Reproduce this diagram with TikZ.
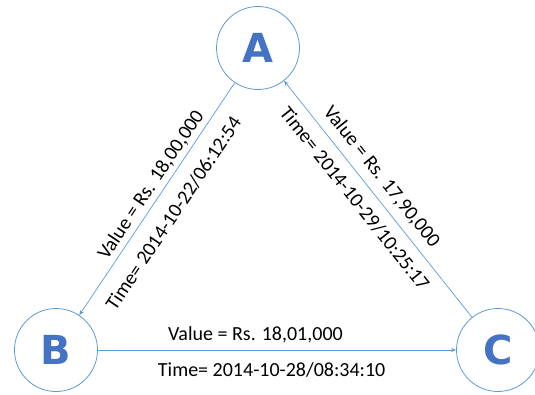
\documentclass[tikz,border=0pt]{standalone}
\usepackage{fontspec}
\setmainfont{Carlito}
\newfontfamily\lettfont{DejaVu Sans}
\usetikzlibrary{arrows.meta}
\definecolor{edgeblue}{HTML}{5B9BD5}
\definecolor{letterblue}{HTML}{4472C4}
\begin{document}
\begin{tikzpicture}[x=1pt, y=-1pt,
    party/.style={circle, draw=edgeblue, line width=0.8pt, minimum size=83pt, inner sep=0pt,
        font=\lettfont\bfseries\fontsize{40}{40}\selectfont, text=letterblue},
    link/.style={draw=edgeblue, line width=0.7pt, -{Stealth[length=5pt, width=4pt]}},
    info/.style={font=\fontsize{20}{22}\selectfont, inner sep=0pt}]
    \useasboundingbox (0,0) rectangle (535,395);

    % parties
    \node[party] (A) at (258,48) {A};
    \node[party] (B) at (56,350) {B};
    \node[party] (C) at (498,350) {C};

    % A to B
    \draw[link, {Stealth[length=5pt, width=4pt]}-] (B) -- (A)
        node[info, sloped, pos=0.53, above=4pt] {Value = Rs. 18,00,000}
        node[info, sloped, pos=0.49, below=14pt] {Time= 2014-10-22/06:12:54};
    % C to A
    \draw[link, {Stealth[length=5pt, width=4pt]}-] (A) -- (C)
        node[info, sloped, pos=0.45, above=8pt] {Value = Rs. 17,90,000}
        node[info, sloped, pos=0.45, below=10pt] {Time= 2014-10-29/10:25:17};
    % B to C
    \draw[link] (B) -- (C)
        node[info, pos=0.44, above=7pt] {Value = Rs. 18,01,000}
        node[info, pos=0.485, below=12pt] {Time= 2014-10-28/08:34:10};
\end{tikzpicture}
\end{document}
